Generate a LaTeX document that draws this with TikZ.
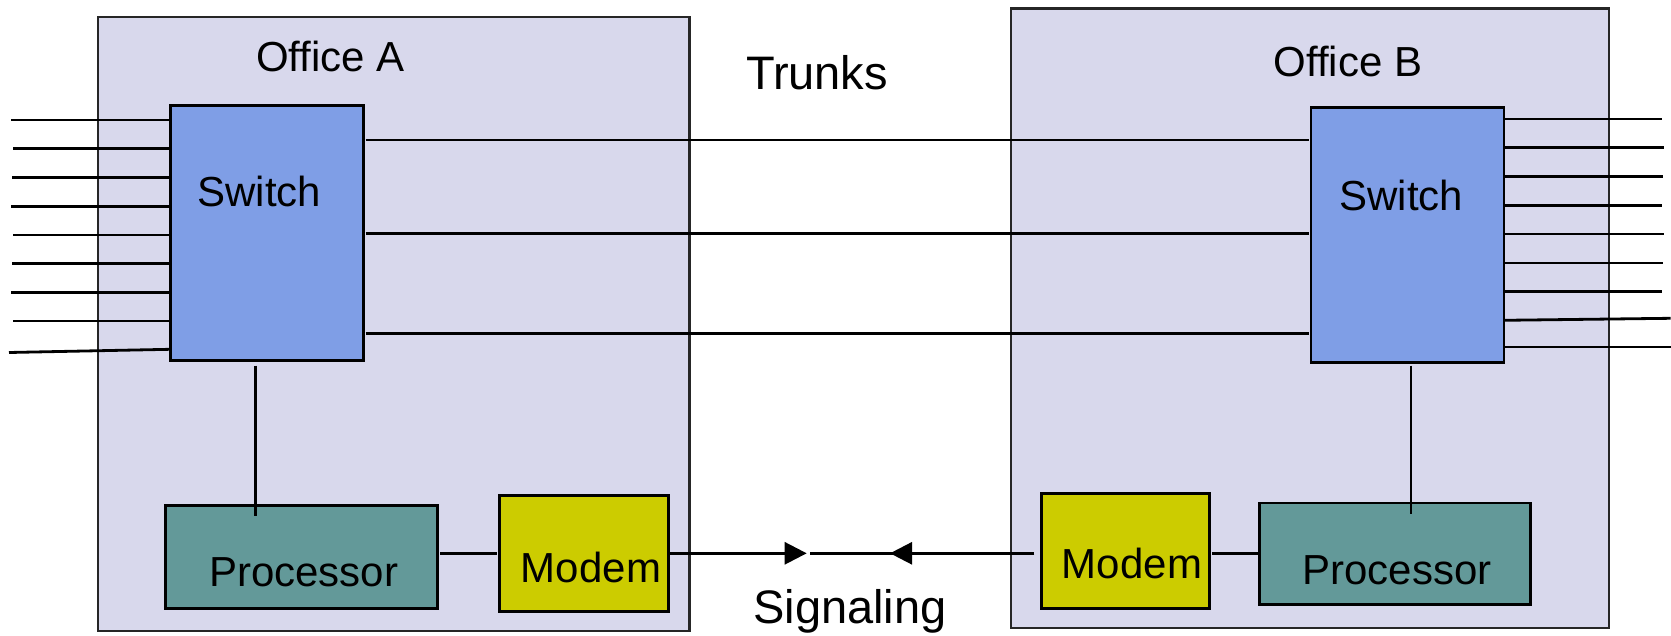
\documentclass[tikz,border=0pt]{standalone}
\usepackage{fontspec}
\setmainfont{Liberation Sans}
\usetikzlibrary{arrows.meta}
\definecolor{officec}{RGB}{216,216,236}
\definecolor{switchc}{RGB}{127,158,230}
\definecolor{procc}{RGB}{99,153,153}
\definecolor{modemc}{RGB}{204,204,0}
\tikzset{
  box/.style={anchor=north west, inner sep=0pt, outer sep=0pt},
  officebox/.style={box, draw=black!85, fill=officec, line width=2.6pt},
  swbox/.style={box, draw=black, fill=switchc, line width=2.8pt},
  procbox/.style={box, draw=black, fill=procc, line width=2.8pt},
  modembox/.style={box, draw=black, fill=modemc, line width=2.8pt},
  wire/.style={line width=2.8pt, draw=black},
  thinwire/.style={line width=2.7pt, draw=black},
  lbl/.style={anchor=base, inner sep=0pt, font=\fontsize{42}{50}\selectfont},
  biglbl/.style={anchor=base, inner sep=0pt, font=\fontsize{47}{56}\selectfont},
  sigtip/.style={-{Triangle[length=22pt,width=22pt]}}
}
\begin{document}
\begin{tikzpicture}[x=1pt,y=-1pt]
\useasboundingbox (0,0) rectangle (1671,636);
% offices
\node[officebox, minimum width=591.5pt, minimum height=614pt] (offA) at (98,17) {};
\node[officebox, minimum width=598pt, minimum height=619.5pt] (offB) at (1011,8.5) {};
% switches
\node[swbox, minimum width=193pt, minimum height=255pt] (swA) at (170.5,105.7) {};
\node[swbox, minimum width=193pt, minimum height=255.4pt] (swB) at (1311,107.3) {};
% processors and modems
\node[procbox, minimum width=272pt, minimum height=103.4pt] (procA) at (165.2,505.1) {};
\node[modembox, minimum width=168.4pt, minimum height=116pt] (modA) at (499.8,495.6) {};
\node[modembox, minimum width=168.4pt, minimum height=115pt] (modB) at (1041.2,493.4) {};
\node[procbox, minimum width=270.6pt, minimum height=101.3pt] (procB) at (1259.7,503) {};
% labels
\node[lbl] (tOffA) at (330.5,71.7) {Office A};
\node[lbl] (tOffB) at (1348,76.7) {Office B};
\node[biglbl] (tTrunks) at (817,89.5) {Trunks};
\node[lbl] (tSwA) at (259.5,207) {Switch};
\node[lbl] (tSwB) at (1401.4,211) {Switch};
\node[lbl] (tProcA) at (303.7,586) {Processor};
\node[lbl] (tModA) at (591,582) {Modem};
\node[lbl] (tModB) at (1132,578.7) {Modem};
\node[lbl] (tProcB) at (1397,584) {Processor};
\node[biglbl] (tSig) at (850,623) {Signaling};
% subscriber lines, left
\foreach \ya/\yb/\x in {120/120/11,148.7/148.7/13,177.3/177.3/12,206.3/206.3/11,235/235/13,263.7/263.7/12,292.3/292.3/11,321/321/13,352.5/349.3/9}{
  \coordinate (l) at (\x,\ya);
  \coordinate (lr) at (0,\yb);
  \draw[wire] (l) -- (swA.west |- lr);
}
% subscriber lines, right
\foreach \ya/\yb/\x in {119/119/1662,147.7/147.7/1664,176.3/176.3/1663,205.3/205.3/1662,234/234/1664,263/263/1663,291.7/291.7/1662,320.3/318.3/1670.7,347/347/1671}{
  \coordinate (r) at (\x,\yb);
  \coordinate (rl) at (0,\ya);
  \draw[wire] (swB.east |- rl) -- (r);
}
% trunks
\foreach \y in {140,233.5,333.8}{
  \coordinate (tr) at (0,\y);
  \draw[thinwire, shorten <=2pt, shorten >=2.5pt] (swA.east |- tr) -- (swB.west |- tr);
}
% switch to processor
\coordinate (vA1) at (255.3,365.5);
\coordinate (vA2) at (255.3,516);
\draw[thinwire] (vA1) -- (vA2);
\coordinate (vB1) at (1411,365.5);
\coordinate (vB2) at (1411,513.7);
\draw[thinwire] (vB1) -- (vB2);
% processor to modem
\coordinate (pm) at (0,553.3);
\draw[thinwire, shorten <=3pt, shorten >=3pt] (procA.east |- pm) -- (modA.west |- pm);
\draw[thinwire, shorten <=2.5pt, shorten >=0pt] (modB.east |- pm) -- (procB.west |- pm);
% signaling
\coordinate (sigL) at (806.7,553.3);
\coordinate (sigM) at (890,553.3);
\coordinate (sigR) at (810,553.3);
\draw[thinwire, sigtip] (modA.east |- pm) -- (sigL);
\draw[thinwire, shorten <=7pt] (modB.west |- pm) -- (sigR);
\draw[thinwire, sigtip, shorten <=7pt] (modB.west |- pm) -- (sigM);
\end{tikzpicture}
\end{document}
